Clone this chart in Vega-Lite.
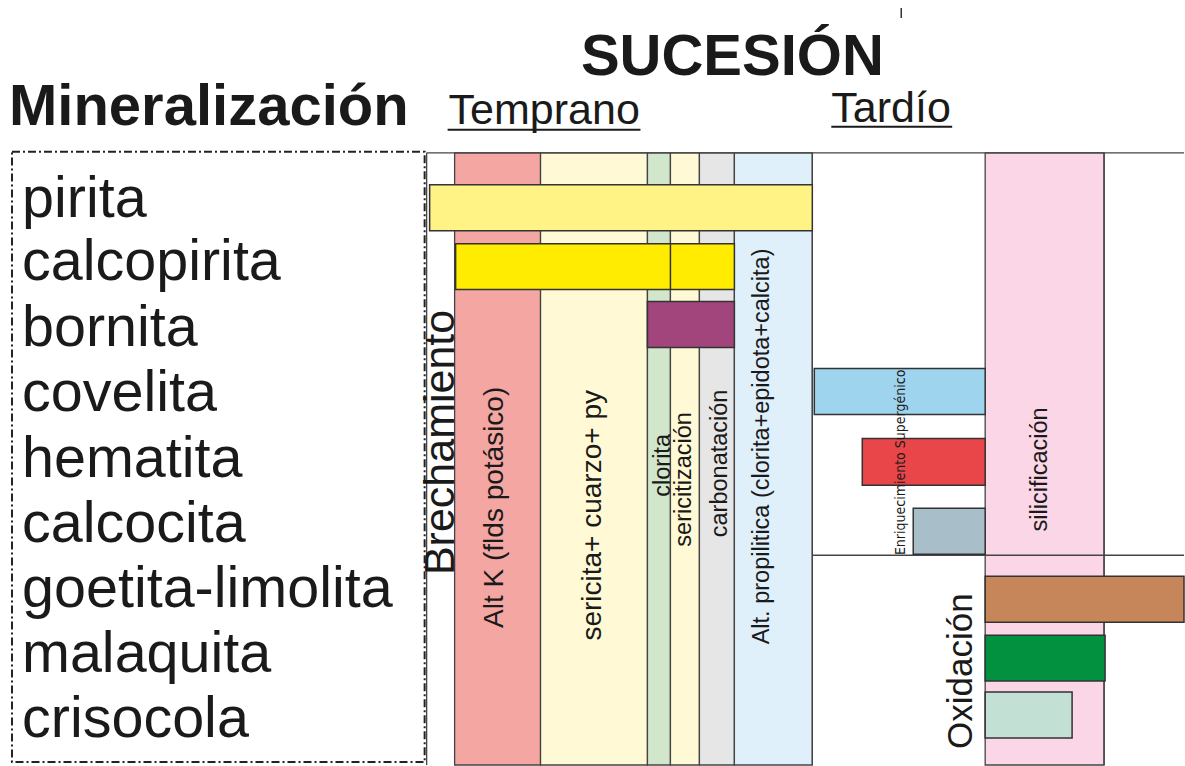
{
  "$schema": "https://vega.github.io/schema/vega-lite/v6.json",
  "width": 1185,
  "height": 766,
  "autosize": {"type": "fit", "contains": "padding"},
  "padding": 0,
  "background": "white",
  "config": {"view": {"stroke": null}},
  "encoding": {
    "x": {"field": "x", "type": "quantitative", "scale": {"domain": [0, 1185], "nice": false, "zero": false}, "axis": null},
    "y": {"field": "y", "type": "quantitative", "scale": {"domain": [0, 766], "reverse": true, "nice": false, "zero": false}, "axis": null}
  },
  "layer": [
    {
      "data": {"values": [
        {"nombre": "Alt K (flds potásico)", "x": 455, "x2": 541, "y": 153, "y2": 766},
        {"nombre": "sericita+ cuarzo+ py", "x": 541, "x2": 648, "y": 153, "y2": 766},
        {"nombre": "clorita", "x": 648, "x2": 671, "y": 153, "y2": 766},
        {"nombre": "sericitización", "x": 671, "x2": 700, "y": 153, "y2": 766},
        {"nombre": "carbonatación", "x": 700, "x2": 735, "y": 153, "y2": 766},
        {"nombre": "Alt. propilitica (clorita+epidota+calcita)", "x": 735, "x2": 813, "y": 153, "y2": 766},
        {"nombre": "silicificación", "x": 986, "x2": 1105, "y": 153, "y2": 766}
      ]},
      "mark": {"type": "rect", "stroke": "#444444", "strokeWidth": 1.3},
      "encoding": {
        "x2": {"field": "x2"},
        "y2": {"field": "y2"},
        "color": {"field": "nombre", "type": "nominal", "legend": null,
          "scale": {
            "domain": ["Alt K (flds potásico)", "sericita+ cuarzo+ py", "clorita", "sericitización", "carbonatación", "Alt. propilitica (clorita+epidota+calcita)", "silicificación", "pirita", "calcopirita", "bornita", "covelita", "hematita", "calcocita", "goetita-limolita", "malaquita", "crisocola"],
            "range": ["#F4A6A2", "#FFF9D6", "#D2E6CB", "#FFF9D6", "#E6E6E6", "#DFF0FA", "#FAD6E6", "#FFF385", "#FFEC00", "#A2457D", "#9FD4EE", "#E84649", "#A8BEC9", "#C6865A", "#02913F", "#C2E0D4"]
          }}
      }
    },
    {
      "data": {"values": [
        {"x": 427, "x2": 427, "y": 153, "y2": 766},
        {"x": 427, "x2": 1185, "y": 153, "y2": 153},
        {"x": 813, "x2": 813, "y": 153, "y2": 766},
        {"x": 1105, "x2": 1105, "y": 153, "y2": 766},
        {"x": 813, "x2": 1185, "y": 556, "y2": 556}
      ]},
      "mark": {"type": "rule", "color": "#444444", "strokeWidth": 1.3},
      "encoding": {"x2": {"field": "x2"}, "y2": {"field": "y2"}}
    },
    {
      "data": {"values": [
        {"nombre": "pirita", "x": 430, "x2": 813, "y": 185, "y2": 231},
        {"nombre": "calcopirita", "x": 456, "x2": 735, "y": 244, "y2": 290},
        {"nombre": "bornita", "x": 648, "x2": 735, "y": 302, "y2": 348},
        {"nombre": "covelita", "x": 815, "x2": 986, "y": 369, "y2": 415},
        {"nombre": "hematita", "x": 863, "x2": 986, "y": 439, "y2": 486},
        {"nombre": "calcocita", "x": 914, "x2": 986, "y": 509, "y2": 555},
        {"nombre": "goetita-limolita", "x": 986, "x2": 1185, "y": 577, "y2": 623},
        {"nombre": "malaquita", "x": 986, "x2": 1106, "y": 636, "y2": 682},
        {"nombre": "crisocola", "x": 986, "x2": 1073, "y": 693, "y2": 739}
      ]},
      "mark": {"type": "rect", "stroke": "#333333", "strokeWidth": 1.5},
      "encoding": {
        "x2": {"field": "x2"},
        "y2": {"field": "y2"},
        "color": {"field": "nombre", "type": "nominal", "legend": null}
      }
    },
    {
      "data": {"values": [
        {"x": 671, "x2": 671, "y": 244, "y2": 290},
        {"x": 902, "x2": 902, "y": 8, "y2": 18}
      ]},
      "mark": {"type": "rule", "color": "#333333", "strokeWidth": 1.5},
      "encoding": {"x2": {"field": "x2"}, "y2": {"field": "y2"}}
    },
    {
      "data": {"values": [{"x": 12, "x2": 425, "y": 152, "y2": 763}]},
      "mark": {"type": "rect", "fill": null, "fillOpacity": 0, "stroke": "#222222", "strokeWidth": 2, "strokeDash": [8, 3, 2, 3]},
      "encoding": {"x2": {"field": "x2"}, "y2": {"field": "y2"}}
    },
    {
      "data": {"values": [
        {"x": 448, "x2": 641, "y": 130, "y2": 130},
        {"x": 832, "x2": 953, "y": 127, "y2": 127}
      ]},
      "mark": {"type": "rule", "color": "#1a1a1a", "strokeWidth": 2},
      "encoding": {"x2": {"field": "x2"}, "y2": {"field": "y2"}}
    },
    {
      "data": {"values": [
        {"texto": "pirita", "x": 22, "y": 217},
        {"texto": "calcopirita", "x": 22, "y": 280},
        {"texto": "bornita", "x": 22, "y": 346},
        {"texto": "covelita", "x": 22, "y": 412},
        {"texto": "hematita", "x": 22, "y": 478},
        {"texto": "calcocita", "x": 22, "y": 543},
        {"texto": "goetita-limolita", "x": 22, "y": 608},
        {"texto": "malaquita", "x": 22, "y": 673},
        {"texto": "crisocola", "x": 22, "y": 738}
      ]},
      "mark": {"type": "text", "align": "left", "baseline": "alphabetic", "font": "Liberation Sans", "fontSize": 57.5, "color": "#1a1a1a"},
      "encoding": {"text": {"field": "texto"}}
    },
    {
      "data": {"values": [{"texto": "Mineralización", "x": 9, "y": 125}]},
      "mark": {"type": "text", "align": "left", "baseline": "alphabetic", "font": "Liberation Sans", "fontWeight": "bold", "fontSize": 58, "color": "#1a1a1a"},
      "encoding": {"text": {"field": "texto"}}
    },
    {
      "data": {"values": [{"texto": "SUCESIÓN", "x": 733, "y": 75}]},
      "mark": {"type": "text", "align": "center", "baseline": "alphabetic", "font": "Liberation Sans", "fontWeight": "bold", "fontSize": 58, "color": "#1a1a1a"},
      "encoding": {"text": {"field": "texto"}}
    },
    {
      "data": {"values": [
        {"texto": "Temprano", "x": 449, "y": 124},
        {"texto": "Tardío", "x": 832, "y": 122}
      ]},
      "mark": {"type": "text", "align": "left", "baseline": "alphabetic", "font": "Liberation Sans", "fontSize": 43, "color": "#1a1a1a"},
      "encoding": {"text": {"field": "texto"}}
    },
    {
      "data": {"values": [{"texto": "Brechamiento", "x": 454, "y": 443}]},
      "mark": {"type": "text", "angle": 270, "align": "center", "baseline": "alphabetic", "font": "Liberation Sans", "fontSize": 43, "color": "#1a1a1a"},
      "encoding": {"text": {"field": "texto"}}
    },
    {
      "data": {"values": [
        {"texto": "Alt K (flds potásico)", "x": 503, "y": 508},
        {"texto": "sericita+ cuarzo+ py", "x": 602, "y": 516}
      ]},
      "mark": {"type": "text", "angle": 270, "align": "center", "baseline": "alphabetic", "font": "Liberation Sans", "fontSize": 28, "color": "#1a1a1a"},
      "encoding": {"text": {"field": "texto"}}
    },
    {
      "data": {"values": [
        {"texto": "clorita", "x": 671, "y": 466},
        {"texto": "sericitización", "x": 692, "y": 480},
        {"texto": "carbonatación", "x": 728, "y": 464},
        {"texto": "Alt. propilitica (clorita+epidota+calcita)", "x": 770, "y": 447},
        {"texto": "silicificación", "x": 1048, "y": 470}
      ]},
      "mark": {"type": "text", "angle": 270, "align": "center", "baseline": "alphabetic", "font": "Liberation Sans", "fontSize": 23.5, "color": "#1a1a1a"},
      "encoding": {"text": {"field": "texto"}}
    },
    {
      "data": {"values": [{"texto": "Oxidación", "x": 973, "y": 672}]},
      "mark": {"type": "text", "angle": 270, "align": "center", "baseline": "alphabetic", "font": "Liberation Sans", "fontSize": 35, "color": "#1a1a1a"},
      "encoding": {"text": {"field": "texto"}}
    },
    {
      "data": {"values": [{"texto": "Enriquecimiento Supergénico", "x": 906, "y": 463}]},
      "mark": {"type": "text", "angle": 270, "align": "center", "baseline": "alphabetic", "font": "Liberation Sans Narrow, DejaVu Sans Condensed, sans-serif", "fontSize": 14, "color": "#1a1a1a"},
      "encoding": {"text": {"field": "texto"}}
    }
  ]
}
